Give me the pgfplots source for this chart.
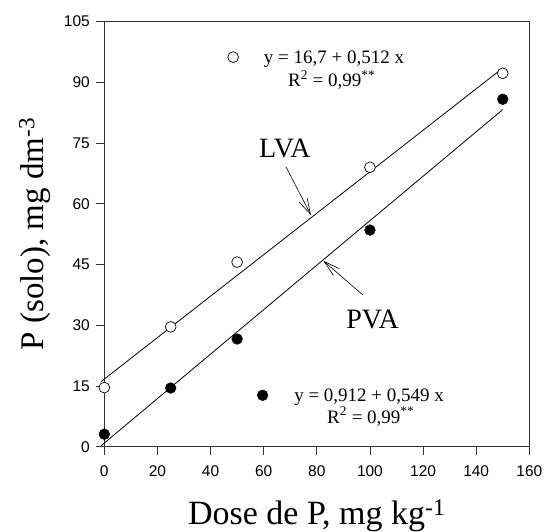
\documentclass[border=0pt]{standalone}
\usepackage{fontspec}
\setmainfont{Liberation Serif}
\newfontfamily\ticksans{Liberation Sans}
\usepackage{pgfplots}
\pgfplotsset{compat=1.18}
\usetikzlibrary{arrows.meta}

\begin{document}
\begin{tikzpicture}
\begin{axis}[
 scale only axis, width=425bp, height=425.2bp,
 xmin=0, xmax=160, ymin=0, ymax=105,
 xtick={0,20,...,160}, ytick={0,15,...,105},
 tick align=outside, xtick pos=bottom, ytick pos=left,
 major tick length=8bp,
 axis line style={black!80, line width=0.8bp},
 every tick/.style={black!80, line width=0.8bp},
 tick label style={font=\ticksans\fontsize{15.5bp}{18bp}\selectfont},
 xticklabel style={yshift=-7bp},
 yticklabel style={xshift=-3bp},
 /pgf/number format/assume math mode=true,
 xlabel={Dose de P, mg kg\textsuperscript{-1}},
 ylabel={P (solo), mg dm\textsuperscript{-3}},
 xlabel style={font=\fontsize{34bp}{40bp}\selectfont, at={(rel axis cs:0.5,-0.184)}, anchor=base},
 ylabel style={font=\fontsize{33bp}{40bp}\selectfont, at={(rel axis cs:-0.1435,0.5)}, anchor=base},
 clip=false,
]
\addplot[black, line width=0.8bp] coordinates {(-1.2,16.09) (150,93.5)};
\addplot[black, line width=0.8bp] coordinates {(-1.2,0.25) (150,83.26)};
\addplot[only marks, mark=*, mark size=5.4bp, mark options={fill=white, draw=black, line width=0.7bp}] coordinates {(0,14.6) (25,29.6) (50,45.6) (100,69) (150,92.2)};
\addplot[only marks, mark=*, mark size=5.4bp, mark options={fill=black, draw=black}] coordinates {(0,3.1) (25,14.5) (50,26.6) (100,53.5) (150,85.8)};
\addplot[only marks, mark=*, mark size=5.4bp, mark options={fill=white, draw=black, line width=0.7bp}] coordinates {(48.5,96.2)};
\addplot[only marks, mark=*, mark size=5.4bp, mark options={fill=black, draw=black}] coordinates {(59.6,12.7)};
\node[font=\fontsize{19bp}{22bp}\selectfont] at (axis cs:86.5,95.6) {y = 16,7 + 0,512 x};
\node[font=\fontsize{19bp}{22bp}\selectfont] at (axis cs:85.6,90.5) {R\textsuperscript{2} = 0,99\textsuperscript{**}};
\node[font=\fontsize{19bp}{22bp}\selectfont] at (axis cs:99.7,12.3) {y = 0,912 + 0,549 x};
\node[font=\fontsize{19bp}{22bp}\selectfont] at (axis cs:100.3,7.4) {R\textsuperscript{2} = 0,99\textsuperscript{**}};
\node[font=\fontsize{28bp}{32bp}\selectfont] at (axis cs:68,73.7) {LVA};
\node[font=\fontsize{28bp}{32bp}\selectfont] at (axis cs:101,31.5) {PVA};
\draw[-{Straight Barb[length=16bp,width=9bp]}, line width=0.6bp] (axis cs:68.4,69.1) -- (axis cs:77.8,57.2);
\draw[-{Straight Barb[length=16bp,width=9bp]}, line width=0.6bp] (axis cs:97.3,37.5) -- (axis cs:82.5,45.9);
\coordinate (BL) at (rel axis cs:-0.2454,-0.1983);
\coordinate (TR) at (rel axis cs:1.0369,1.0506);
\end{axis}
\pgfresetboundingbox
\useasboundingbox (BL) rectangle (TR);
\end{tikzpicture}
\end{document}
